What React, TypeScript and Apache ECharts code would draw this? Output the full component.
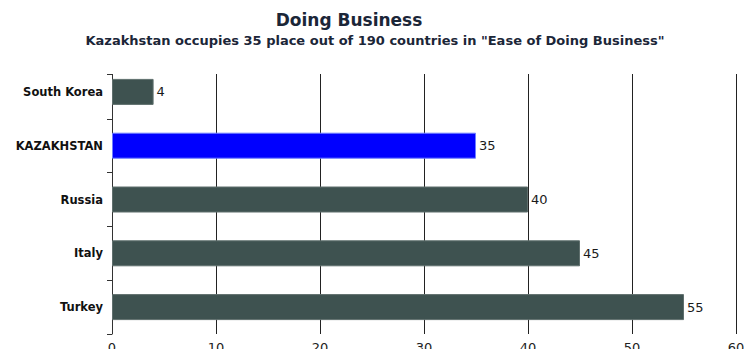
import React, { useEffect, useRef } from "react";
import * as echarts from "echarts";

const countries = ["South Korea", "KAZAKHSTAN", "Russia", "Italy", "Turkey"];
const ranks = [4, 35, 40, 45, 55];
const highlight = "KAZAKHSTAN";
const xTicks = { min: 0, max: 60, interval: 10 };

const FONT = "DejaVu Sans";

export default function App() {
  const ref = useRef<HTMLDivElement>(null);
  useEffect(() => {
    if (!ref.current) return;
    const chart = echarts.init(ref.current, undefined, { renderer: "svg" });
    chart.setOption({
      animation: false,
      backgroundColor: "#ffffff",
      graphic: [
        {
          type: "text",
          x: 349,
          y: 11,
          style: {
            text: "Doing Business",
            textAlign: "center",
            fill: "#1b2638",
            font: `bold 17px "${FONT}"`,
          },
        },
        {
          type: "text",
          x: 375,
          y: 34,
          style: {
            text: 'Kazakhstan occupies 35 place out of 190 countries in "Ease of Doing Business"',
            textAlign: "center",
            fill: "#1b2638",
            font: `bold 13px "${FONT}"`,
          },
        },
        {
          type: "rect",
          z: 100,
          shape: { x: 100, y: 60, width: 644, height: 14 },
          style: { fill: "#ffffff" },
        },
        {
          type: "line",
          z: 101,
          shape: { x1: 107, y1: 74.5, x2: 112.5, y2: 74.5 },
          style: { stroke: "#333333", lineWidth: 1 },
        },
      ],
      grid: { left: 112, right: 8, top: 65, height: 269, outerBoundsMode: "none", containLabel: false },
      xAxis: {
        type: "value",
        min: xTicks.min,
        max: xTicks.max,
        interval: xTicks.interval,
        axisLine: { show: false },
        axisTick: { show: false },
        splitLine: { show: true, lineStyle: { color: "#222222", width: 1 } },
        axisLabel: { color: "#222222", fontFamily: FONT, fontSize: 13, margin: 7 },
      },
      yAxis: {
        type: "category",
        data: countries,
        inverse: true,
        axisLine: { show: true, lineStyle: { color: "#333333", width: 1 } },
        axisTick: { show: true, length: 5, lineStyle: { color: "#333333" } },
        axisLabel: {
          color: "#111111",
          fontFamily: FONT,
          fontSize: 11.5,
          fontWeight: "bold",
          margin: 9,
        },
      },
      series: [
        {
          type: "bar",
          barWidth: 26,
          data: ranks.map((v, i) => ({
            value: v,
            itemStyle: {
              color: countries[i] === highlight ? "#0000ff" : "#3e5250",
              borderColor: countries[i] === highlight ? "#6f7fff" : "#5f6f6d",
              borderWidth: 1,
            },
          })),
          label: {
            show: true,
            position: "right",
            distance: 3,
            color: "#1a1a1a",
            fontFamily: FONT,
            fontSize: 13,
          },
        },
      ],
    });
    return () => chart.dispose();
  }, []);
  return <div ref={ref} style={{ width: 744, height: 349, position: "absolute", left: 0, top: 0 }} />;
}
